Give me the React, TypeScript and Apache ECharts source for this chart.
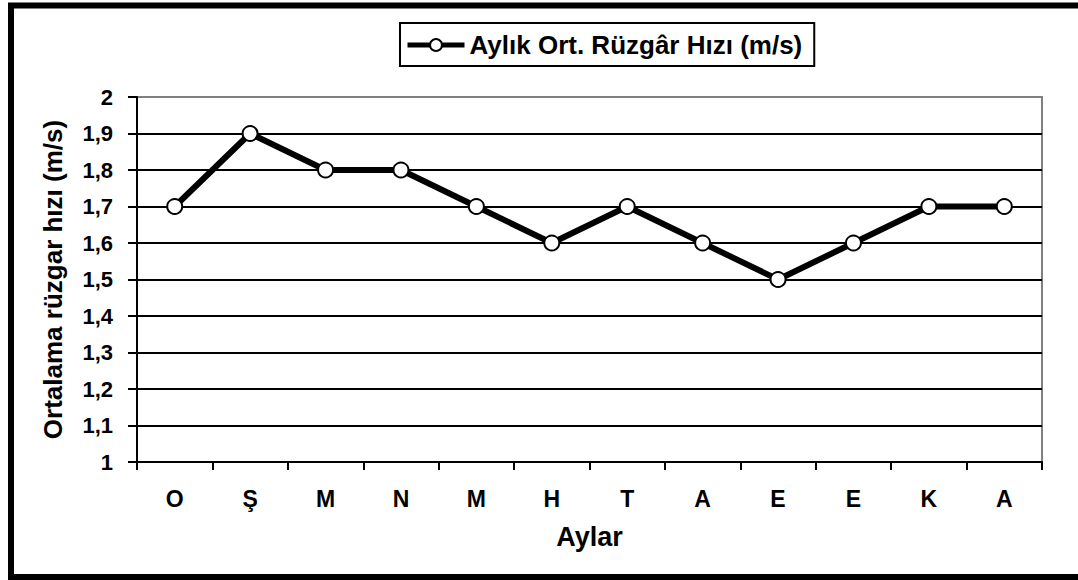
import React, { useEffect, useRef } from "react";
import * as echarts from "echarts";

const categories = ["O", "Ş", "M", "N", "M", "H", "T", "A", "E", "E", "K", "A"];
const windSpeed = [1.7, 1.9, 1.8, 1.8, 1.7, 1.6, 1.7, 1.6, 1.5, 1.6, 1.7, 1.7];
const seriesName = "Aylık Ort. Rüzgâr Hızı (m/s)";
const yAxisTitle = "Ortalama rüzgar hızı (m/s)";
const xAxisTitle = "Aylar";
const yMin = 1;
const yMax = 2;
const yStep = 0.1;

const FONT = "'Liberation Sans', Arial, sans-serif";

export default function App() {
  const ref = useRef<HTMLDivElement>(null);

  useEffect(() => {
    if (!ref.current) return;
    const chart = echarts.init(ref.current, undefined, { renderer: "svg" });
    const splitColors = Array.from({ length: 11 }, (_, i) => (i === 10 ? "#808080" : "#000000"));
    chart.setOption({
      animation: false,
      backgroundColor: "#ffffff",
      textStyle: { fontFamily: FONT },
      graphic: [
        {
          type: "rect",
          shape: { x: 11, y: 5.5, width: 1080, height: 571.5 },
          style: { fill: "none", stroke: "#000", lineWidth: 6 },
          z: 100,
        },
      ],
      legend: {
        show: true,
        left: 400,
        top: 23,
        padding: [9, 12, 8, 5],
        borderColor: "#000",
        borderWidth: 2,
        itemWidth: 57,
        itemHeight: 15,
        lineStyle: { width: 5, color: "#000" },
        textStyle: { fontFamily: FONT, fontWeight: "bold", fontSize: 26, color: "#000" },
        data: [seriesName],
      },
      grid: {
        left: 137,
        right: 36,
        top: 97,
        bottom: 118,
        show: true,
        borderColor: "#808080",
        borderWidth: 2,
        containLabel: false,
      },
      xAxis: {
        type: "category",
        data: categories,
        boundaryGap: true,
        name: xAxisTitle,
        nameLocation: "middle",
        nameGap: 61,
        nameTextStyle: { fontFamily: FONT, fontWeight: "bold", fontSize: 27, color: "#000" },
        axisLine: { show: true, lineStyle: { color: "#000", width: 2 } },
        axisTick: { show: true, length: 8, lineStyle: { color: "#000", width: 2 }, alignWithLabel: false },
        axisLabel: { margin: 25, fontFamily: FONT, fontWeight: "bold", fontSize: 23, color: "#000" },
        splitLine: { show: false },
      },
      yAxis: {
        type: "value",
        min: yMin,
        max: yMax,
        interval: yStep,
        name: yAxisTitle,
        nameLocation: "middle",
        nameGap: 71,
        nameRotate: 90,
        nameTextStyle: { fontFamily: FONT, fontWeight: "bold", fontSize: 26, color: "#000" },
        axisLine: { show: true, lineStyle: { color: "#000", width: 2 } },
        axisTick: { show: true, length: 9, lineStyle: { color: "#000", width: 2 } },
        axisLabel: {
          margin: 24,
          fontFamily: FONT,
          fontWeight: "bold",
          fontSize: 22,
          color: "#000",
          formatter: (v: number) => String(Number(v.toFixed(1))).replace(".", ","),
        },
        splitLine: { show: true, lineStyle: { color: splitColors, width: 2 } },
      },
      series: [
        {
          name: seriesName,
          type: "line",
          data: windSpeed,
          symbol: "circle",
          symbolSize: 15,
          showAllSymbol: true,
          lineStyle: { color: "#000", width: 6 },
          itemStyle: { color: "#fff", borderColor: "#000", borderWidth: 2 },
          emphasis: { disabled: true },
        },
      ],
    });
    return () => chart.dispose();
  }, []);

  return (
    <div
      ref={ref}
      style={{ position: "fixed", left: 0, top: 0, width: 1078, height: 580, background: "#fff" }}
    />
  );
}
